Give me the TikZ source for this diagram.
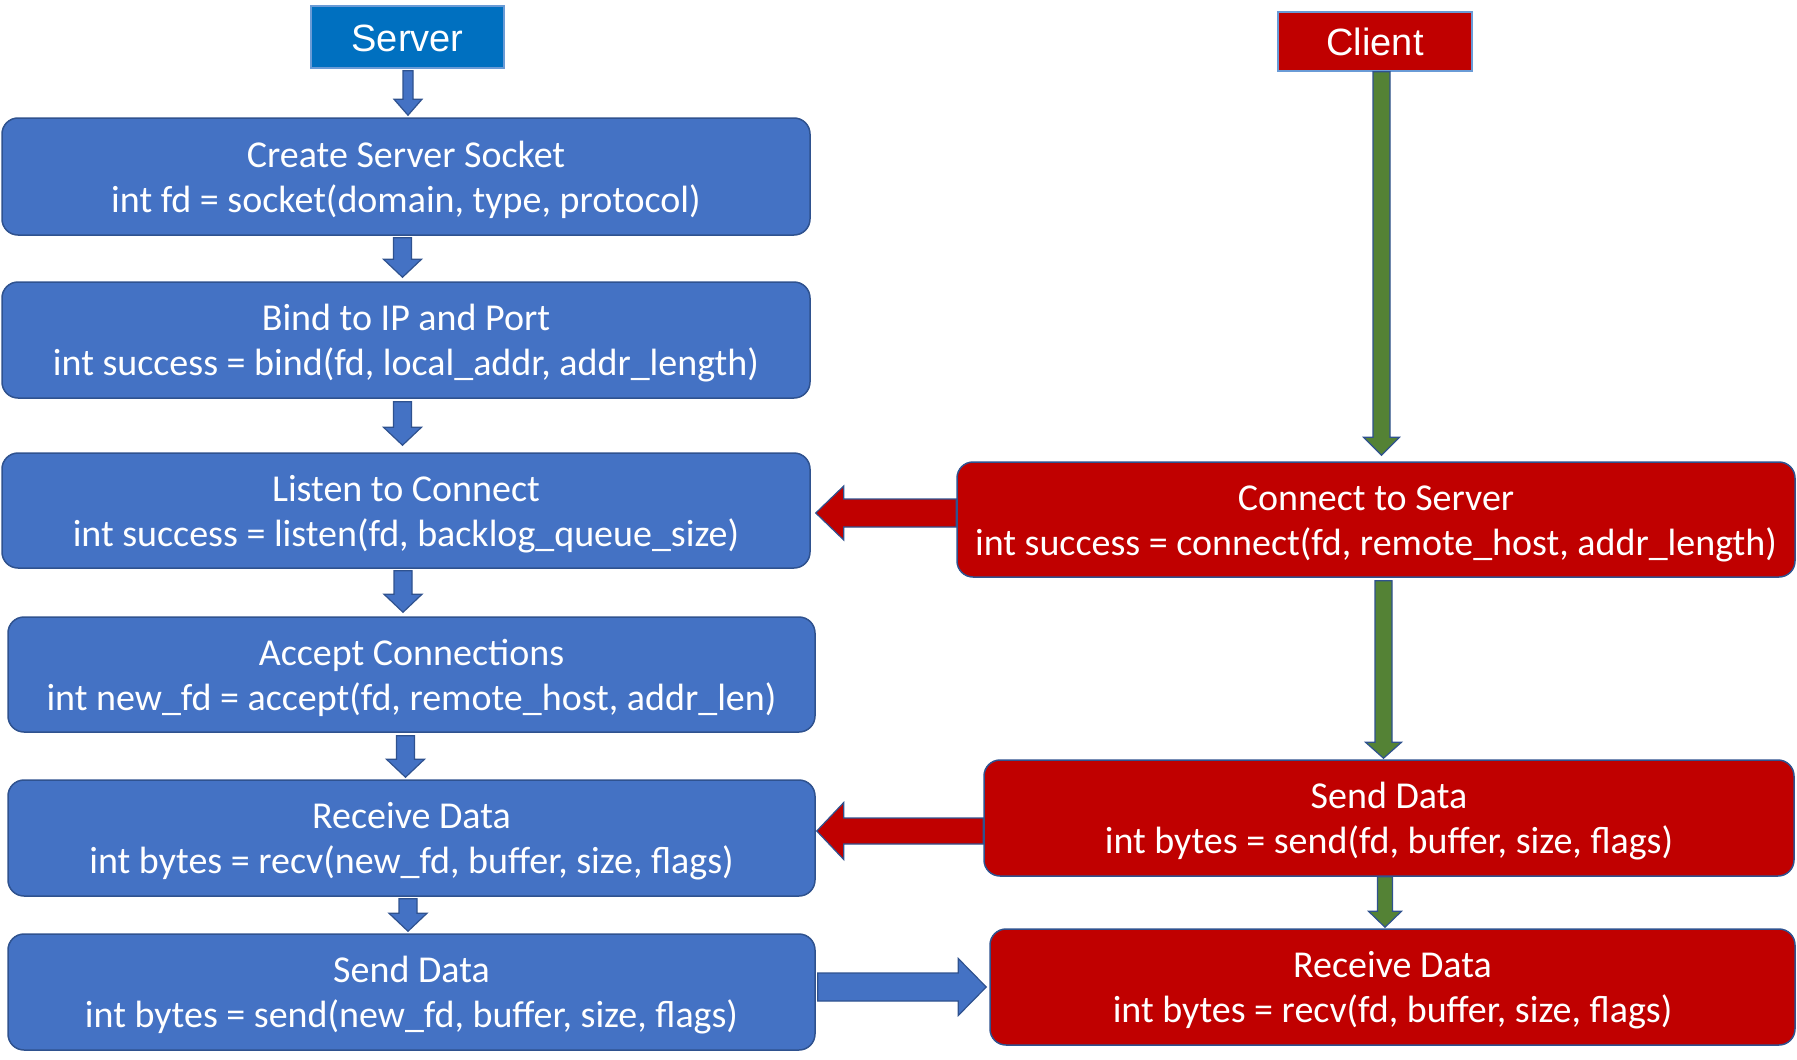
\documentclass[tikz,border=0pt]{standalone}
\usepackage{fontspec}
\setmainfont{Carlito}
\newfontfamily\arialfont{Liberation Sans}
\usetikzlibrary{calc}
\definecolor{boxblue}{HTML}{4472C4}
\definecolor{edgeblue}{HTML}{2F528F}
\definecolor{hdrblue}{HTML}{0070C0}
\definecolor{boxred}{HTML}{C00000}
\definecolor{arrgreen}{HTML}{548235}
\definecolor{hdredge}{HTML}{6A9BD6}
\newcommand\tstrut{\rule{0pt}{33pt}}
% vertical (downward) block arrow: style, start, end, shaft half, head half, head length
\newcommand\blkdown[6]{%
  \draw[#1] let \p1=(#2), \p2=(#3) in
   (\x1-#4pt,\y1) -- (\x1+#4pt,\y1) -- (\x1+#4pt,\y2+#6pt) -- (\x1+#5pt,\y2+#6pt)
   -- (\x1,\y2) -- (\x1-#5pt,\y2+#6pt) -- (\x1-#4pt,\y2+#6pt) -- cycle;}
% horizontal block arrow pointing left
\newcommand\blkleft[6]{%
  \draw[#1] let \p1=(#2), \p2=(#3) in
   (\x1,\y1+#4pt) -- (\x2+#6pt,\y1+#4pt) -- (\x2+#6pt,\y1+#5pt) -- (\x2,\y1)
   -- (\x2+#6pt,\y1-#5pt) -- (\x2+#6pt,\y1-#4pt) -- (\x1,\y1-#4pt) -- cycle;}
% horizontal block arrow pointing right
\newcommand\blkright[6]{%
  \draw[#1] let \p1=(#2), \p2=(#3) in
   (\x1,\y1+#4pt) -- (\x2-#6pt,\y1+#4pt) -- (\x2-#6pt,\y1+#5pt) -- (\x2,\y1)
   -- (\x2-#6pt,\y1-#5pt) -- (\x2-#6pt,\y1-#4pt) -- (\x1,\y1-#4pt) -- cycle;}
\begin{document}
\begin{tikzpicture}[x=1pt,y=-1pt,
  basebox/.style={draw=edgeblue, line width=1.5pt, rounded corners=16pt, text=white,
    align=center, inner sep=0pt, font=\fontsize{38}{45}\selectfont},
  srvbox/.style={basebox, fill=boxblue},
  clibox/.style={basebox, fill=boxred},
  hdrbox/.style={draw=hdredge, line width=1.5pt, text=white, inner sep=0pt,
    font=\arialfont\fontsize{38}{40}\selectfont},
  bluearrow/.style={fill=boxblue, draw=edgeblue, line width=1.2pt, line join=miter},
  redarrow/.style={fill=boxred, draw=edgeblue, line width=1.2pt, line join=miter},
  greenarrow/.style={fill=arrgreen, draw=edgeblue, line width=1.2pt, line join=miter}]
\useasboundingbox (0,0) rectangle (1797,1060);

\node[hdrbox, fill=hdrblue, minimum width=193pt, minimum height=62pt] (server) at (407.5,37) {\rule{0pt}{29pt}Server};
\node[hdrbox, fill=boxred, minimum width=194pt, minimum height=59pt] (client) at (1375,41.5) {\rule{0pt}{29pt}Client};

\node[srvbox, minimum width=808pt, minimum height=117pt] (s1) at (406,176.5)
  {\tstrut Create Server Socket\\int fd = socket(domain, type, protocol)};
\node[srvbox, minimum width=808pt, minimum height=116pt] (s2) at (406,340)
  {\tstrut Bind to IP and Port\\int success = bind(fd, local\_addr, addr\_length)};
\node[srvbox, minimum width=808pt, minimum height=115pt] (s3) at (406,510.5)
  {\tstrut Listen to Connect\\int success = listen(fd, backlog\_queue\_size)};
\node[srvbox, minimum width=807pt, minimum height=115pt] (s4) at (411.5,674.5)
  {\tstrut Accept Connections\\int new\_fd = accept(fd, remote\_host, addr\_len)};
\node[srvbox, minimum width=807pt, minimum height=116pt] (s5) at (411.5,838)
  {\tstrut Receive Data\\int bytes = recv(new\_fd, buffer, size, flags)};
\node[srvbox, minimum width=807pt, minimum height=116pt] (s6) at (411.5,992)
  {\tstrut Send Data\\int bytes = send(new\_fd, buffer, size, flags)};

\node[clibox, minimum width=838pt, minimum height=115pt] (c1) at (1376,519.5)
  {\tstrut Connect to Server\\int success = connect(fd, remote\_host, addr\_length)};
\node[clibox, minimum width=810pt, minimum height=116pt] (c2) at (1389,818)
  {\tstrut Send Data\\int bytes = send(fd, buffer, size, flags)};
\node[clibox, minimum width=805pt, minimum height=116pt] (c3) at (1392.5,987)
  {\tstrut Receive Data\\int bytes = recv(fd, buffer, size, flags)};

% server column arrows
\blkdown{bluearrow}{$(server.south)+(0.5,2)$}{$(s1.north)+(0,-2)$}{5}{14}{16}
\blkdown{bluearrow}{$(s1.south)+(-3.5,2)$}{$(s2.north)+(0,-4)$}{9}{19}{18}
\blkdown{bluearrow}{$(s2.south)+(-3.5,3)$}{$(s3.north)+(0,-7)$}{9}{19}{18}
\blkdown{bluearrow}{$(s3.south)+(-3,2)$}{$(s4.north)+(0,-4)$}{9}{19}{18}
\blkdown{bluearrow}{$(s4.south)+(-6,3)$}{$(s5.north)+(0,-2)$}{9}{19}{18}
\blkdown{bluearrow}{$(s5.south)+(-3.5,2)$}{$(s6.north)+(0,-2)$}{9}{19}{18}

% client column arrows
\blkdown{greenarrow}{$(client.south)+(6.5,0)$}{$(c1.north)+(0,-6)$}{8.5}{18}{18}
\blkdown{greenarrow}{$(c1.south)+(7.5,3)$}{$(c2.north)+(0,-1)$}{8.5}{18}{16}
\blkdown{greenarrow}{$(c2.south)+(-4,0)$}{$(c3.north)+(0,-1)$}{7.5}{16.5}{16}

% cross arrows
\blkleft{redarrow}{$(c1.west)+(0,-6.5)$}{$(s3.east)+(5,0)$}{14}{27}{28}
\blkleft{redarrow}{$(c2.west)+(0,13)$}{$(s5.east)+(1,0)$}{13}{28.5}{27}
\blkright{bluearrow}{$(s6.east)+(2,-5)$}{$(c3.west)+(-3,0)$}{14}{28.5}{28}
\end{tikzpicture}
\end{document}
